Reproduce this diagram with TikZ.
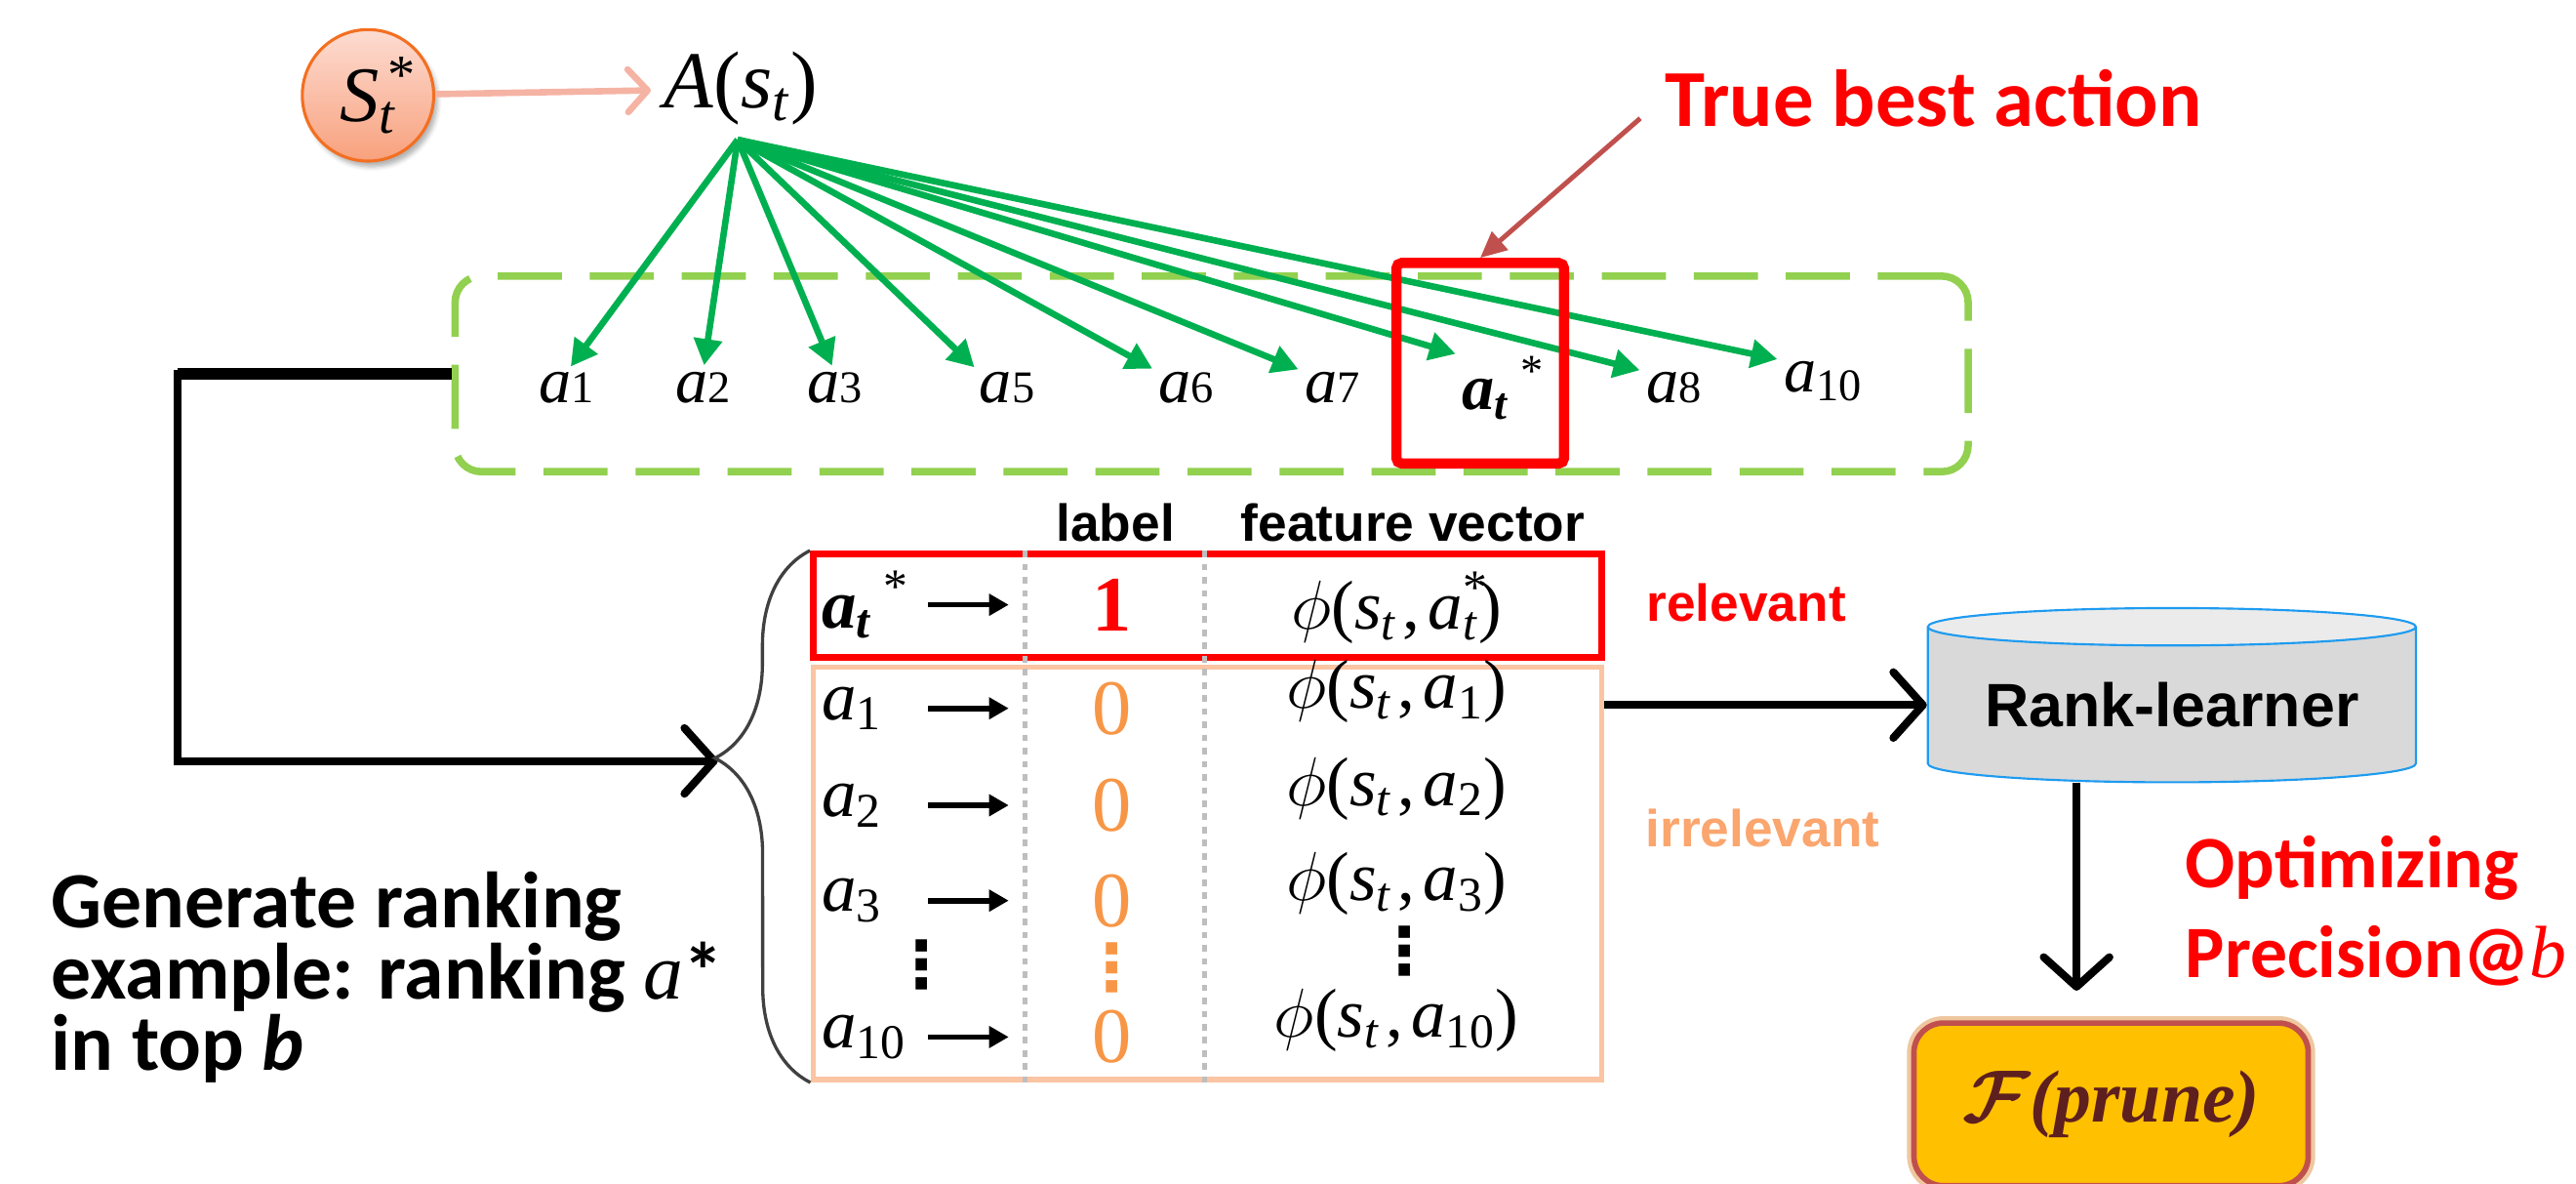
\documentclass[tikz,border=0pt]{standalone}
\usepackage{fix-cm}
\usepackage{fontspec}
\setmainfont{Liberation Serif}
\newfontfamily\calibri{Carlito}
\newfontfamily\arial{Liberation Sans}
\newfontfamily\dejavu{DejaVu Sans}
\usetikzlibrary{arrows.meta,positioning,fit,calc,shapes.geometric,
                decorations.pathreplacing,shadows.blur}
\definecolor{cLeaf} {HTML}{00B050}
\definecolor{cLime} {HTML}{92D050}
\definecolor{cHot}  {HTML}{FF0000}
\definecolor{cBrick}{HTML}{C0504D}
\definecolor{cPeach}{HTML}{FBC4A2}
\definecolor{cTang} {HTML}{F79646}
\definecolor{cApri} {HTML}{FAA66E}
\definecolor{cPink} {HTML}{F5B3A4}
\definecolor{cBlush}{HTML}{FDDCD2}
\definecolor{cCoral}{HTML}{F8A17D}
\definecolor{cRind} {HTML}{F36F21}
\definecolor{cGold} {HTML}{FFC000}
\definecolor{cCocoa}{HTML}{5E1F1F}
\definecolor{cSky}  {HTML}{1E9BF0}
\definecolor{cDot}  {HTML}{BEBEBE}
\newcommand{\mi}[1]{\textit{#1}}
\newcommand{\bmi}[1]{\textbf{\textit{#1}}}
\newcommand{\feat}[1]{$\phi$(\mi{s}\textsubscript{\mi{t}}\kern.08em,\kern.12em#1)}
\newcommand{\vdotsx}{{\dejavu\bfseries ⋮}}
\tikzset{
  seed/.style   ={circle,minimum size=20mm,inner sep=0pt,draw=cRind,line width=1.3pt,
                  top color=cBlush,bottom color=cCoral,font=\fontsize{34}{38}\selectfont,
                  blur shadow={shadow xshift=.6mm,shadow yshift=-.9mm,shadow opacity=30}},
  mathlbl/.style={inner sep=0pt,font=\fontsize{28}{32}\selectfont},
  grp/.style    ={draw=cLime,line width=3.2pt,dash pattern=on 9.75mm off 4.25mm,
                  rounded corners=4mm,inner sep=0pt},
  hit/.style    ={draw=cHot,line width=4.4pt,rounded corners=.8mm,inner sep=0pt},
  fanarr/.style ={draw=cLeaf,line width=2.8pt,-{Triangle[length=4mm,width=4.2mm]},shorten >=1mm},
  pinkarr/.style={draw=cPink,line width=2.8pt,-{Straight Barb[length=3mm,width=6.5mm,round]}},
  ptr/.style    ={draw=cBrick,line width=2.1pt,-{Triangle[length=4mm,width=3.6mm]}},
  link/.style   ={draw=black,line width=3.4pt},
  barb/.style   ={-{Straight Barb[length=4.5mm,width=10mm,round]}},
  brc/.style    ={draw=black!75,line width=1.4pt,decorate,
                  decoration={brace,amplitude=14.5mm,aspect=0.61}},
  relbox/.style ={draw=cHot,line width=2.8pt,inner sep=0pt},
  irrbox/.style ={draw=cPeach,line width=2.4pt,inner sep=0pt},
  colsep/.style ={draw=cDot,line width=2.2pt,dash pattern=on 1mm off 1mm},
  hdr/.style    ={font=\arial\bfseries\fontsize{22.5}{26}\selectfont,inner sep=0pt},
  rowlbl/.style ={anchor=west,inner sep=0pt,font=\fontsize{30}{34}\selectfont},
  rowarr/.style ={draw=black,line width=2.4pt,-{Triangle[length=3mm,width=3.2mm]}},
  digit/.style  ={inner sep=0pt,font=\fontsize{34}{38}\selectfont},
  featlbl/.style={inner sep=0pt,font=\fontsize{30}{34}\selectfont},
  dotcol/.style ={inner sep=0pt,font=\fontsize{28}{32}\selectfont},
  tag/.style    ={font=\arial\bfseries\fontsize{22.5}{26}\selectfont,inner sep=0pt},
  learner/.style={cylinder,shape border rotate=90,aspect=0.1,draw=cSky,line width=.9pt,
                  cylinder uses custom fill,cylinder body fill=black!15,cylinder end fill=black!8,
                  minimum width=74.25mm,minimum height=26.5mm,inner sep=0pt,
                  font=\arial\bfseries\fontsize{26.5}{30}\selectfont},
  note/.style   ={font=\calibri\bfseries\fontsize{34.5}{31}\selectfont,align=left,inner sep=0pt},
  shout/.style  ={font=\calibri\bfseries\fontsize{35}{40}\selectfont,text=cHot,inner sep=0pt},
  prune/.style  ={rounded corners=4.5mm,fill=cGold,draw=cBrick,line width=2.4pt,
                  minimum width=60mm,minimum height=24.75mm,text=cCocoa,
                  font=\fontsize{32}{36}\selectfont,
                  preaction={draw=cBrick!55!cGold,line width=6pt,draw opacity=.45}},
}

\begin{document}
\begin{tikzpicture}[x=.25mm,y=-.25mm]
\useasboundingbox (0,0) rectangle (1568,720);

% ===== state and its action set ============================================
\node[seed] (seed) at (224,58) {\mi{S}\rlap{\textsuperscript{\,*}}\textsubscript{\mi{t}}};
\node[inner sep=0pt,font=\fontsize{35}{40}\selectfont] (As) at (451,54)
  {\mi{A}(\mi{s}\textsubscript{\mi{t}})};
\draw[pinkarr,shorten >=2mm] (seed) -- (As);

% ===== candidate actions ===================================================
\coordinate (ag1) at (277,168);
\coordinate (ag2) at (1198,287);
\node[grp,fit=(ag1)(ag2)] (actbox) {};
\foreach \n/\xx/\lab in {a1/345/1,a2/428/2,a3/508/3,a5/613/5,a6/722/6,a7/811/7,a8/1019/8}
  \node[mathlbl] (\n) at (\xx,236) {\mi{a}\scalebox{.7}{\lab}};
\node[mathlbl] (a10) at (1110,232) {\mi{a}\textsubscript{10}};
\node[mathlbl] (astar) at (915,236) {\bmi{a}\textsubscript{\bmi{t}}\,\textsuperscript{*}};
\coordinate (fan) at (449,85);
\foreach \n/\anc in {a1/north,a2/north,a3/north,a5/north west,a6/north west,
                     a7/north west,astar/north west,a8/north west,a10/north west}
  \draw[fanarr] (fan) -- (\n.\anc);

% red frame round the best action, with its callout
\coordinate (hb1) at (850,160);
\coordinate (hb2) at (952,282);
\node[hit,fit=(hb1)(hb2)] (hitbox) {};
\node[shout] (tba) at (1177,60) {True best action};
\draw[ptr] ($(tba.west)+(-15,12)$) -- (hitbox.north);

% ===== actions fed into the ranking example ================================
\coordinate (turn) at (108,0);
\coordinate (bracetip) at (437,463);
\draw[link,barb] (actbox.west) -| (turn |- bracetip) -- (bracetip);
\draw[link,line width=5pt] (actbox.west) -- (actbox.west -| turn);

% ===== ranking example table ===============================================
\node[hdr] (hlab)  at (679,318) {label};
\node[hdr] (hfeat) at (860,318) {feature vector};
\coordinate (rb1) at (495,337);
\coordinate (rb2) at (975,400);
\node[relbox,fit=(rb1)(rb2)] (rel) {};
\coordinate (ib1) at (495,406);
\coordinate (ib2) at (975,657);
\node[irrbox,fit=(ib1)(ib2)] (irr) {};
\coordinate (sep1) at (624,0);
\coordinate (sep2) at (733,0);
\draw[colsep] (rel.north -| sep1) -- (irr.south -| sep1);
\draw[colsep] (rel.north -| sep2) -- (irr.south -| sep2);
\draw[brc] (irr.south west) -- (rel.north west);

\coordinate (arrA) at (565,0);
\coordinate (arrB) at (614,0);
% relevant row
\node[rowlbl] (rt) at (500,368) {\bmi{a}\textsubscript{\bmi{t}}\,\textsuperscript{*}};
\draw[rowarr] (rt.center -| arrA) -- (rt.center -| arrB);
\node[digit,text=cHot] (d0) at (677,368) {\textbf{1}};
\node[featlbl] (ft) at (850,370) {\feat{\mi{a}\rlap{\textsuperscript{*}}\textsubscript{\mi{t}}}};
% irrelevant rows
\foreach \k/\yy in {1/431,2/490,3/548,10/631} {
  \node[rowlbl] (r\k) at (500,\yy) {\mi{a}\textsubscript{\k}};
  \draw[rowarr] (r\k.center -| arrA) -- (r\k.center -| arrB);
  \node[digit,text=cTang] (d\k) at (677,\yy) {0};
  \node[featlbl] (f\k) at (850,\yy-10) {\feat{\mi{a}\textsubscript{\k}}};
}
\node[dotcol] (vd1) at (561,587) {\vdotsx};
\node[dotcol,text=cTang] (vd2) at (677,589) {\vdotsx};
\node[dotcol] (vd3) at (855,579) {\vdotsx};

\node[tag,text=cHot]  (reltag) at (1063,367) {relevant};
\node[tag,text=cApri] (irrtag) at (1073,504) {irrelevant};

% ===== learner and pruning function ========================================
\node[learner] (rank) at (1322,429) {Rank-learner};
\draw[link,barb] (irr.east |- rank.west) -- (rank.west);
\node[prune] (fbox) at (1285,672) {{\boldmath$\mathcal{F}$}\bmi{(prune)}};
\coordinate (drop) at (1264,0);
\draw[link,barb,shorten >=4.5mm] (rank.south -| drop) -- (fbox.north -| drop);
\node[shout,font=\calibri\bfseries\fontsize{32}{39}\selectfont,align=left,anchor=north west]
  (opt) at (1330,508) {Optimizing\\Precision@{\rmfamily\mdseries\itshape b}};

\node[note,anchor=north west] (gen) at (31,530)
  {Generate ranking\\example: ranking {\rmfamily\mdseries\itshape a}*\\in top \textit{b}};
\end{tikzpicture}
\end{document}
